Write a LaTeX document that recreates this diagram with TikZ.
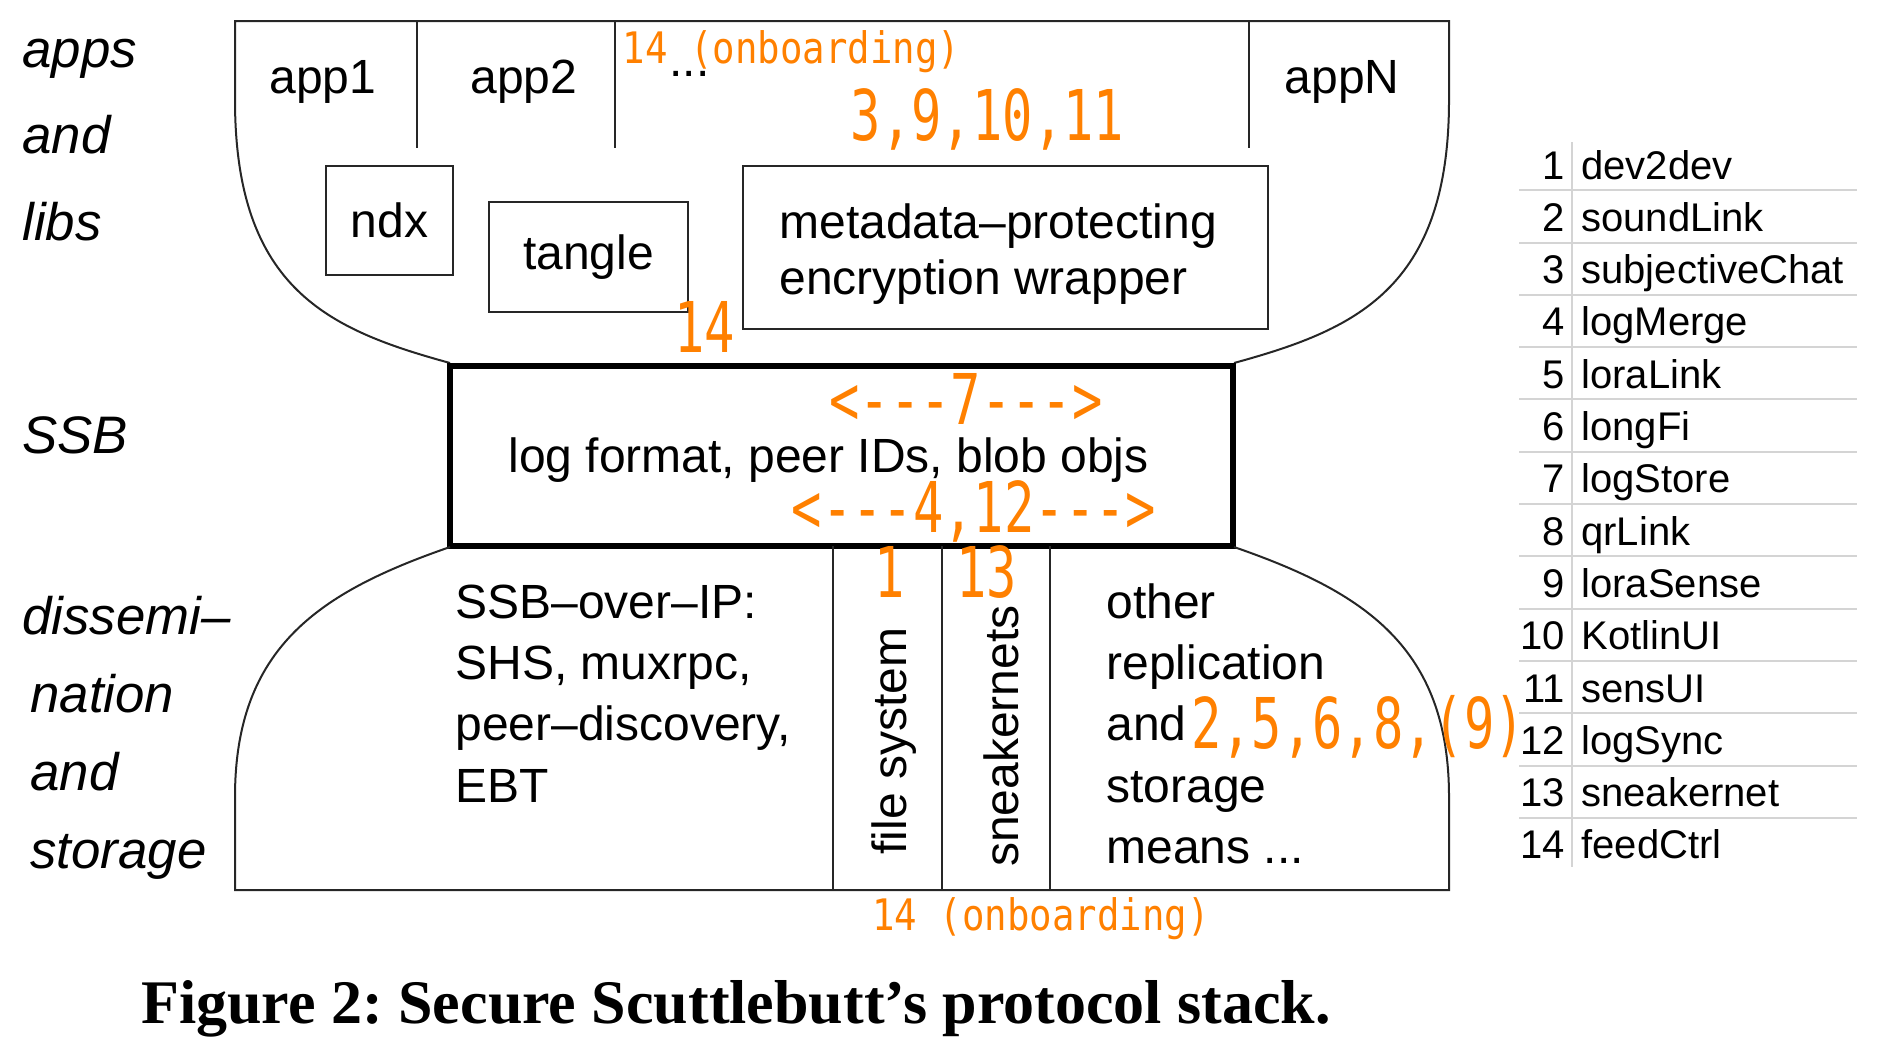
\documentclass[tikz,border=0pt]{standalone}
\usepackage{fontspec}
\newfontfamily\hv[Ligatures=TeX]{Liberation Sans}
\newfontfamily\orbig[FakeStretch=0.72]{DejaVu Sans Mono}
\newfontfamily\orsml[FakeStretch=0.86]{DejaVu Sans Mono}
\newfontfamily\capf[Ligatures=TeX]{Liberation Serif}
\definecolor{orng}{RGB}{255,128,0}
\definecolor{rulec}{RGB}{212,212,212}
\begin{document}
\frenchspacing
\begin{tikzpicture}[x=0.5pt,y=-0.5pt,
  outline/.style={line width=1pt, draw=black!85},
  libbox/.style={draw=black!85, line width=1pt, inner sep=0pt, font=\hv\fontsize{24}{28}\selectfont},
  txt/.style={inner sep=0pt, anchor=base, font=\hv\fontsize{24}{28}\selectfont},
  side/.style={inner sep=0pt, anchor=base west, font=\hv\itshape\fontsize{26.4}{31}\selectfont},
  big/.style={inner sep=0pt, anchor=base, text=orng, font=\orbig\fontsize{35}{40}\selectfont},
  small/.style={inner sep=0pt, anchor=base, text=orng, font=\orsml\fontsize{21.7}{26}\selectfont},
  tabnum/.style={inner sep=0pt, anchor=base east, font=\hv\fontsize{20}{24}\selectfont},
  tabname/.style={inner sep=0pt, anchor=base west, font=\hv\fontsize{20}{24}\selectfont},
  rulel/.style={draw=rulec, line width=1pt}]
\useasboundingbox (0,0) rectangle (1888,1050);

% ---------- upper bowl: apps and libs ----------
\draw[outline] (450,363) .. controls (330,330) and (235,290) .. (235,100) -- (235,21) -- (1449,21) -- (1449,100) .. controls (1449,290) and (1354,330) .. (1234,363);
\draw[outline] (417,21) -- (417,148);
\draw[outline] (615,21) -- (615,148);
\draw[outline] (1249,21) -- (1249,148);
\node[txt] (app1) at (323,93) {app1};
\node[txt] (app2) at (524,93) {app2};
\node[txt] (dots) at (689.5,76) {...};
\node[txt] (appN) at (1342,93) {appN};
\node[libbox, minimum width=63.5pt, minimum height=54.5pt] (ndx) at (389.5,220.5) {ndx};
\node[libbox, minimum width=99.5pt, minimum height=55pt] (tangle) at (588.5,257) {tangle};
\node[libbox, minimum width=262.5pt, minimum height=81.5pt] (meta) at (1005.5,247.5) {};
\node[txt, anchor=base west] (metatext) at (779,238) {\begin{tabular}[t]{@{}l@{}}metadata–protecting\\encryption wrapper\end{tabular}};

% ---------- SSB waist ----------
\node[draw=black, line width=3pt, minimum width=391.5pt, minimum height=90pt, inner sep=0pt] (ssb) at (841.5,456) {};
\node[txt] (ssbtext) at (828.5,472) {log format, peer IDs, blob objs};

% ---------- lower bowl: dissemination and storage ----------
\draw[outline] (450,547) .. controls (320,592) and (235,647) .. (235,797) -- (235,890) -- (1449,890) -- (1449,797) .. controls (1449,647) and (1364,592) .. (1234,547);
\draw[outline] (833,546) -- (833,890);
\draw[outline] (941.5,546) -- (941.5,890);
\draw[outline] (1050,546) -- (1050,890);
\node[txt, anchor=base west] (ip) at (455,618) {\fontsize{24}{30.7}\selectfont\begin{tabular}[t]{@{}l@{}}SSB–over–IP:\\SHS, muxrpc,\\peer–discovery,\\EBT\end{tabular}};
\node[txt, rotate=90] (fs) at (906,741) {file system};
\node[txt, rotate=90] (sn) at (1018,736) {sneakernets};
\node[txt, anchor=base west] (other) at (1106,618) {\fontsize{24}{30.7}\selectfont\begin{tabular}[t]{@{}l@{}}other\\replication\\and\\storage\\means ...\end{tabular}};

% ---------- layer labels ----------
\node[side] (lapps) at (22,67) {\fontsize{26.4}{43.25}\selectfont\begin{tabular}[t]{@{}l@{}}apps\\and\\libs\end{tabular}};
\node[side] (lssb) at (22,453) {SSB};
\node[side] (ldis) at (22,634) {\fontsize{26.4}{39}\selectfont\begin{tabular}[t]{@{}l@{}}dissemi–\\\hspace{4pt}nation\\\hspace{4pt}and\\\hspace{4pt}storage\end{tabular}};

% ---------- orange annotations ----------
\node[small] (on1) at (791.5,63) {14 (onboarding)};
\node[big] (a3) at (987.5,140) {3,9,10,11};
\node[big] (a14) at (704.5,352) {14};
\node[big] (a7) at (966,424) {<{-}{-}{-}7{-}{-}{-}>};
\node[big] (a4) at (974,532) {<{-}{-}{-}4,12{-}{-}{-}>};
\node[big] (a1) at (890,597) {1};
\node[big] (a13) at (986.5,597) {13};
\node[big] (a2) at (1358,748) {2,5,6,8,(9)};
\node[small] (on2) at (1041,930) {14 (onboarding)};

% ---------- legend table ----------
\draw[rulel] (1572,142) -- (1572,867);
\foreach \i in {0,...,12} {
  \draw[rulel] (1519,190.2+52.3*\i) -- (1857,190.2+52.3*\i);
}
\foreach \n/\nm [count=\i from 0] in {1/dev2dev,2/soundLink,3/subjectiveChat,4/logMerge,5/loraLink,6/longFi,7/logStore,8/qrLink,9/loraSense,10/KotlinUI,11/sensUI,12/logSync,13/sneakernet,14/feedCtrl} {
  \node[tabnum] (num\n) at (1565,179+52.3*\i) {\n};
  \node[tabname] (name\n) at (1581,179+52.3*\i) {\nm};
}

% ---------- caption ----------
\node[inner sep=0pt, anchor=base west, font=\capf\bfseries\fontsize{31}{36}\selectfont] (cap) at (141,1023) {Figure 2: Secure Scuttlebutt’s protocol stack.};
\end{tikzpicture}
\end{document}
